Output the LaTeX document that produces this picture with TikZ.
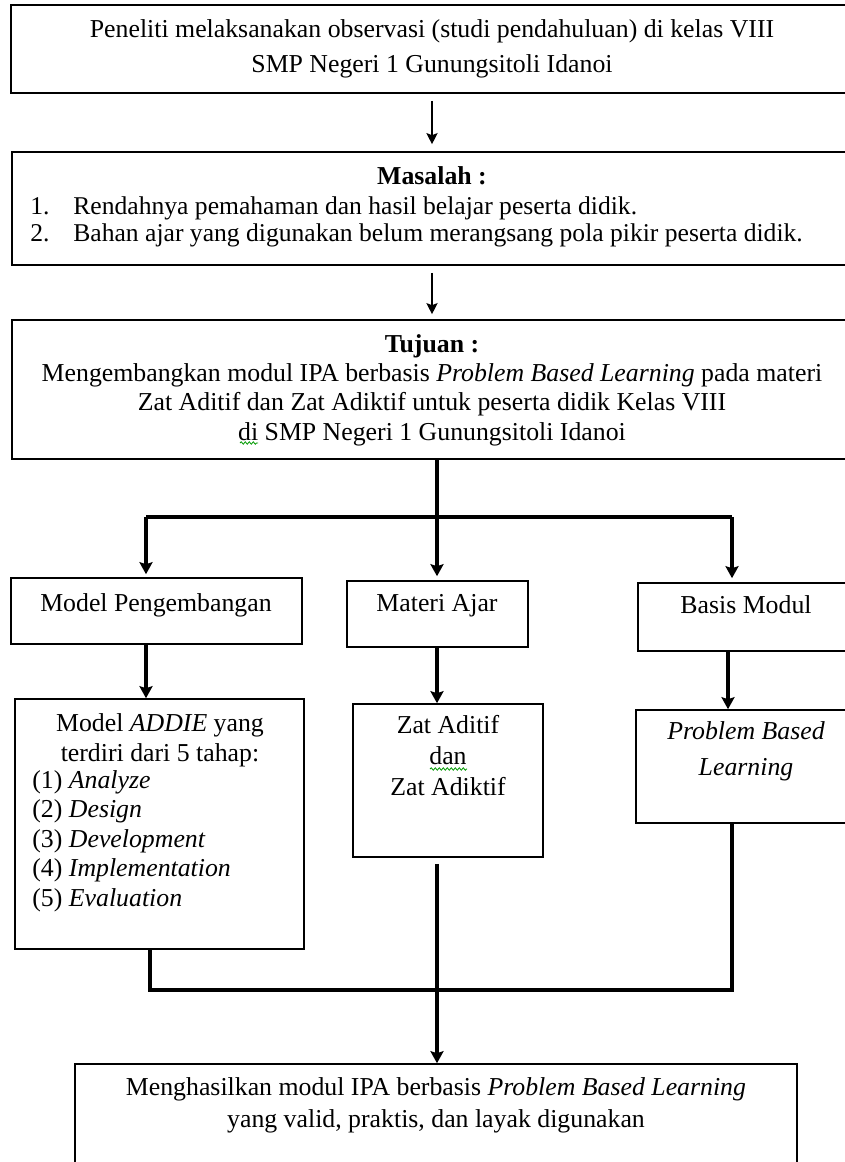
\documentclass[tikz,border=0pt]{standalone}
\usepackage{fontspec}
\setmainfont{Liberation Serif}
\usepackage{tikz}
\usetikzlibrary{arrows.meta, positioning, fit, decorations.pathmorphing}
\tikzstyle{kotak} = [draw, line width=0.8pt, inner sep=0pt]
\tikzstyle{teks} = [align=center, inner sep=0pt, font=\fontsize{12.9}{14.5}\selectfont]
\tikzstyle{garis} = [line width=2pt]
\tikzstyle{panah} = [line width=1.7pt, -{Stealth[length=6pt, width=6.5pt, inset=1pt]}]
\tikzstyle{panahkecil} = [line width=1.4pt, -{Stealth[length=5.5pt, width=5.5pt, inset=1pt]}]
\tikzstyle{ejaan} = [green!60!black, line width=0.4pt, decorate, decoration={snake, amplitude=0.6pt, segment length=2pt}]

\begin{document}
\begin{tikzpicture}[x=0.5pt, y=-0.5pt]
            \useasboundingbox (0,0) rectangle (845,1162);
            \clip (0,0) rectangle (845,1162);
            
            % Observasi
            \node[kotak, fit={(11,5) (852,93)}] (observasi) {};
            \node[teks, font=\fontsize{12.9}{17.5}\selectfont] (observasi-t) at (432,49) {Peneliti melaksanakan observasi (studi pendahuluan) di kelas VIII\\SMP Negeri 1 Gunungsitoli Idanoi};
            
            % Masalah
            \node[kotak, fit={(12,152) (852,265)}] (masalah) {};
            \node[teks, font=\fontsize{12.9}{14.5}\selectfont\bfseries] (masalah-judul) at (432,176) {Masalah :};
            \node[teks, align=left, anchor=west, font=\fontsize{12.8}{13.5}\selectfont] (masalah-isi) at (30,222) {\makebox[21.5pt][l]{1.}Rendahnya pemahaman dan hasil belajar peserta didik.\\\makebox[21.5pt][l]{2.}Bahan ajar yang digunakan belum merangsang pola pikir peserta didik.};
            
            % Tujuan
            \node[kotak, fit={(12,320) (852,459)}] (tujuan) {};
            \node[teks, font=\fontsize{12.9}{14.7}\selectfont] (tujuan-t) at (432,390) {\textbf{Tujuan :}\\Mengembangkan modul IPA berbasis \textit{Problem Based Learning} pada materi\\Zat Aditif dan Zat Adiktif untuk peserta didik Kelas VIII\\di SMP Negeri 1 Gunungsitoli Idanoi};
            \draw[ejaan] (240,443) -- (258,443);
            
            % Tiga cabang
            \node[kotak, fit={(11,578) (302,644)}] (model) {};
            \node[teks] (model-t) at (156,605) {Model Pengembangan};
            \node[kotak, fit={(347,581) (528,647)}] (materi) {};
            \node[teks] (materi-t) at (437,606) {Materi Ajar};
            \node[kotak, fit={(638,583) (854,651)}] (basis) {};
            \node[teks] (basis-t) at (746,605) {Basis Modul};
            
            % Isi cabang
            \node[kotak, fit={(15,699) (304,949)}] (addie) {};
            \node[teks, font=\fontsize{12.9}{15}\selectfont] (addie-judul) at (160,740) {Model \textit{ADDIE} yang\\terdiri dari 5 tahap:};
            \node[teks, align=left, anchor=west, font=\fontsize{12.9}{14.7}\selectfont] (addie-tahap) at (32,841) {(1) \textit{Analyze}\\(2) \textit{Design}\\(3) \textit{Development}\\(4) \textit{Implementation}\\(5) \textit{Evaluation}};
            \node[kotak, fit={(353,704) (543,857)}] (zat) {};
            \node[teks, font=\fontsize{12.9}{15.5}\selectfont] (zat-t) at (448,756) {Zat Aditif\\dan\\Zat Adiktif};
            \draw[ejaan] (430,769) -- (467,769);
            \node[kotak, fit={(636,710) (852,823)}] (pbl) {};
            \node[teks, font=\fontsize{12.9}{18}\selectfont\itshape] (pbl-t) at (746,751) {Problem Based\\Learning};
            
            % Hasil
            \node[kotak, fit={(75,1064) (797,1180)}] (hasil) {};
            \node[teks, font=\fontsize{12.9}{16}\selectfont] (hasil-t) at (436,1105) {Menghasilkan modul IPA berbasis \textit{Problem Based Learning}\\yang valid, praktis, dan layak digunakan};
            
            % Titik sambung
            \coordinate (cabang) at (437,517);
            \coordinate (cabang-kiri) at (146,517);
            \coordinate (cabang-kanan) at (732,517);
            \coordinate (gabung-kiri) at (150,990);
            \coordinate (gabung-kanan) at (732,990);
            
            % Panah atas
            \draw[panahkecil, shorten <=3.5pt, shorten >=3.5pt] (observasi.south -| observasi-t) -- (masalah.north -| observasi-t);
            \draw[panahkecil, shorten <=3.5pt, shorten >=2.5pt] (masalah.south -| observasi-t) -- (tujuan.north -| observasi-t);
            
            % Percabangan
            \draw[garis] (tujuan.south -| cabang) -- (cabang);
            \draw[garis] (cabang-kiri) -- (cabang-kanan);
            \draw[panah] (cabang-kiri) -- ([yshift=1.5pt]cabang-kiri |- model.north);
            \draw[panah] (cabang) -- ([yshift=2pt]cabang |- materi.north);
            \draw[panah] (cabang-kanan) -- ([yshift=2pt]cabang-kanan |- basis.north);
            \draw[panah] (cabang-kiri |- model.south) -- (cabang-kiri |- addie.north);
            \draw[panah] (cabang |- materi.south) -- (cabang |- zat.north);
            \draw[panah] ([xshift=-2pt]cabang-kanan |- basis.south) -- ([xshift=-2pt]cabang-kanan |- pbl.north);
            
            % Penggabungan
            \draw[garis] (gabung-kiri |- addie.south) -- (gabung-kiri) -- (gabung-kanan) -- (gabung-kanan |- pbl.south);
            \draw[panah] ([yshift=-3pt]cabang |- zat.south) -- (cabang |- hasil.north);
        \end{tikzpicture}
\end{document}
